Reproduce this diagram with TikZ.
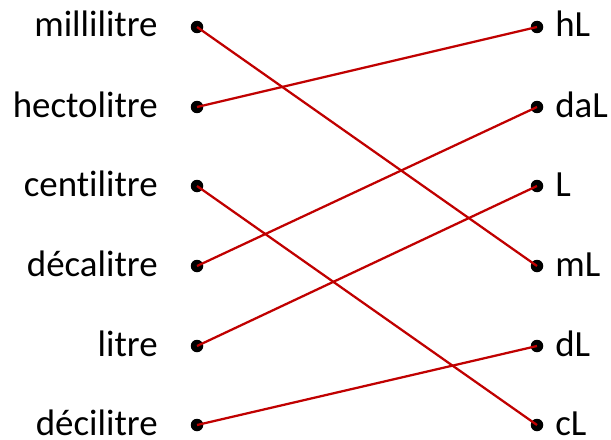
\documentclass[tikz,border=0pt]{standalone}
\usepackage{fontspec}
\setmainfont{Carlito}[Ligatures=NoCommon]
\definecolor{linkred}{RGB}{192,0,0}

\begin{document}
\begin{tikzpicture}[x=0.02cm,y=-0.02cm,
  dot/.style={circle,fill=black,inner sep=0pt,minimum size=0.25cm},
  word/.style={font=\fontsize{21}{25}\selectfont,inner sep=0pt},
  link/.style={linkred,line width=0.045cm}]
  \useasboundingbox (0,0) rectangle (611,439);
  % left column
  \node [dot] (l1) at (197,27) {};
  \node [dot] (l2) at (197,107) {};
  \node [dot] (l3) at (197,186) {};
  \node [dot] (l4) at (197,266) {};
  \node [dot] (l5) at (197,346) {};
  \node [dot] (l6) at (197,425) {};
  \node [word,anchor=base east] (t1) at (158,37) {millilitre};
  \node [word,anchor=base east] (t2) at (158,117) {hectolitre};
  \node [word,anchor=base east] (t3) at (158,196) {centilitre};
  \node [word,anchor=base east] (t4) at (158,276) {décalitre};
  \node [word,anchor=base east] (t5) at (158,356) {litre};
  \node [word,anchor=base east] (t6) at (158,435) {décilitre};
  % right column
  \node [dot] (r1) at (537,27) {};
  \node [dot] (r2) at (537,107) {};
  \node [dot] (r3) at (537,186) {};
  \node [dot] (r4) at (537,266) {};
  \node [dot] (r5) at (537,346) {};
  \node [dot] (r6) at (537,425) {};
  \node [word,anchor=base west] (u1) at (555,37) {hL};
  \node [word,anchor=base west] (u2) at (555,117) {daL};
  \node [word,anchor=base west] (u3) at (555,196) {L};
  \node [word,anchor=base west] (u4) at (555,276) {mL};
  \node [word,anchor=base west] (u5) at (555,356) {dL};
  \node [word,anchor=base west] (u6) at (555,435) {cL};
  % links
  \draw [link] (l1.center) -- (r4.center);
  \draw [link] (l2.center) -- (r1.center);
  \draw [link] (l3.center) -- (r6.center);
  \draw [link] (l4.center) -- (r2.center);
  \draw [link] (l5.center) -- (r3.center);
  \draw [link] (l6.center) -- (r5.center);
\end{tikzpicture}
\end{document}
